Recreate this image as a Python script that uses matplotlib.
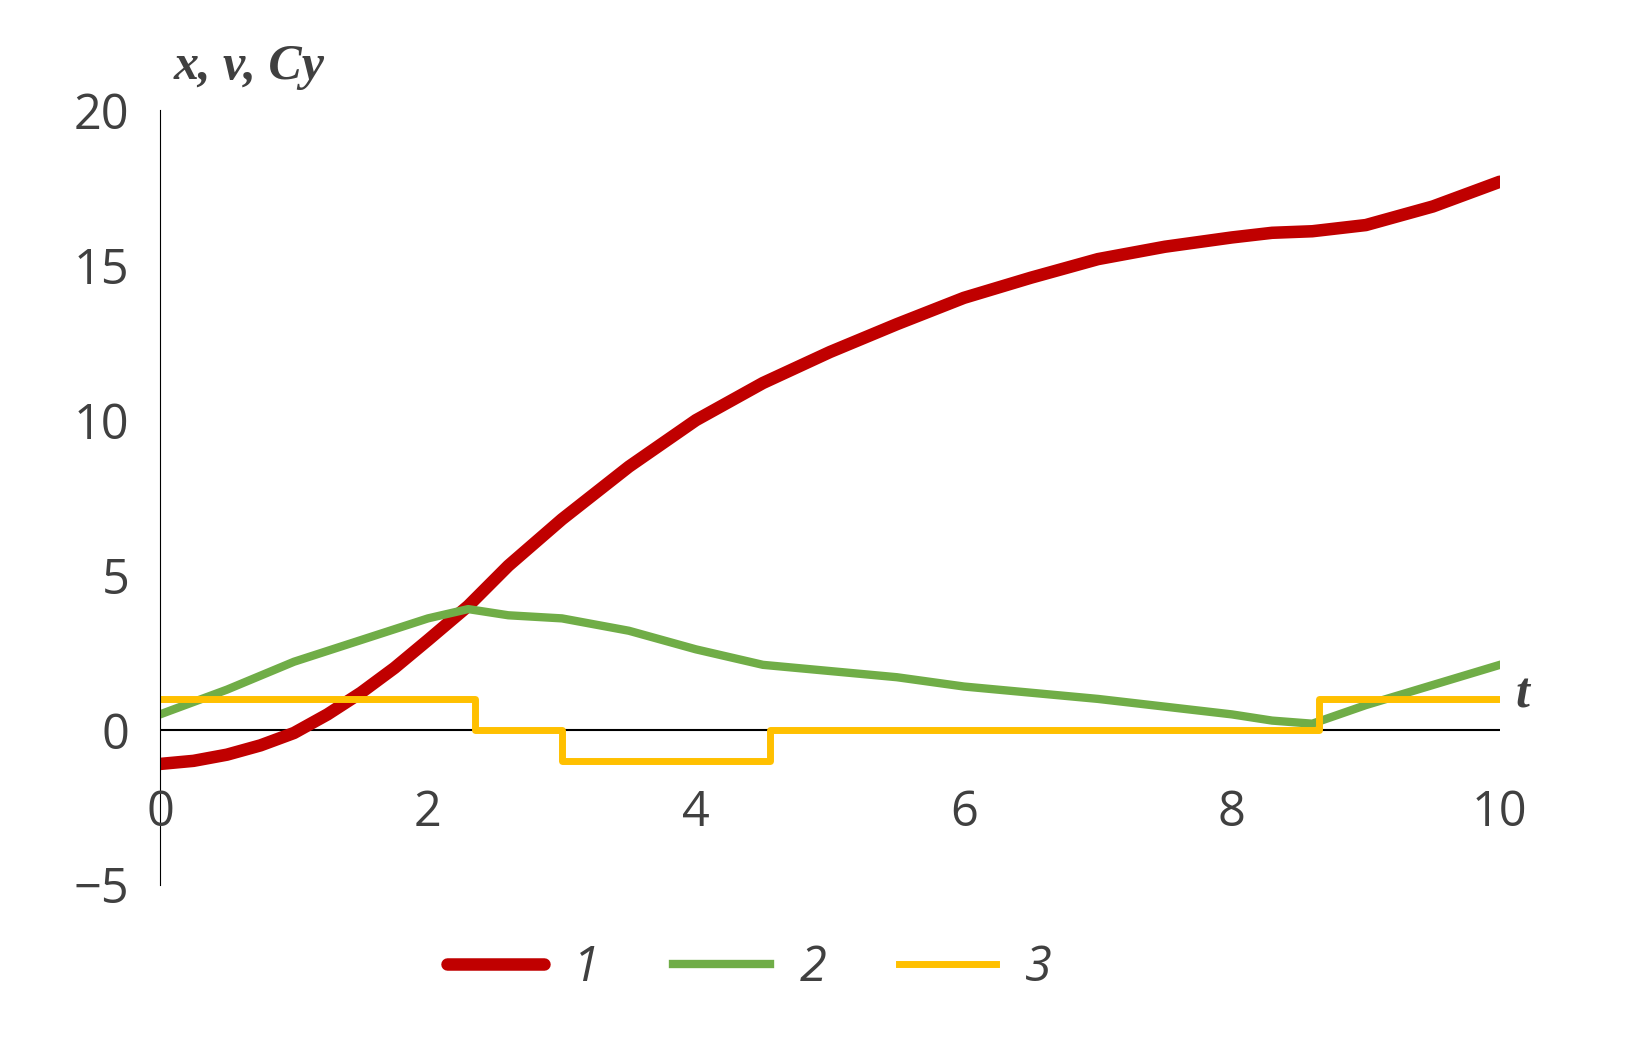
import matplotlib.pyplot as plt

# series 1: x(t)
t1 = [0, 0.25, 0.5, 0.75, 1.0, 1.25, 1.5, 1.75, 2.0, 2.3, 2.6, 3.0, 3.5, 4.0, 4.5, 5.0,
      5.5, 6.0, 6.5, 7.0, 7.5, 8.0, 8.3, 8.6, 9.0, 9.5, 10.0]
x1 = [-1.1, -1.0, -0.8, -0.5, -0.1, 0.5, 1.2, 2.0, 2.9, 4.0, 5.3, 6.8, 8.5, 10.0, 11.2, 12.2,
      13.1, 13.95, 14.6, 15.2, 15.6, 15.9, 16.05, 16.1, 16.3, 16.9, 17.7]
# series 2: v(t)
t2 = [0, 0.5, 1.0, 1.5, 2.0, 2.3, 2.6, 3.0, 3.5, 4.0, 4.5, 5.0, 5.5, 6.0, 6.5, 7.0, 7.5,
      8.0, 8.3, 8.6, 9.0, 9.5, 10.0]
x2 = [0.5, 1.3, 2.2, 2.9, 3.6, 3.9, 3.7, 3.6, 3.2, 2.6, 2.1, 1.9, 1.7, 1.4, 1.2, 1.0, 0.75,
      0.5, 0.3, 0.2, 0.8, 1.45, 2.1]
# series 3: Cy(t), stepwise
t3 = [0, 2.35, 2.35, 3.0, 3.0, 4.55, 4.55, 8.65, 8.65, 10.0]
x3 = [1, 1, 0, 0, -1, -1, 0, 0, 1, 1]

fig = plt.figure(figsize=(16.36, 10.52), dpi=100)
ax = fig.add_axes([0.0978, 0.159, 0.819, 0.736])

ax.plot(t1, x1, color="#c00000", lw=9, label="1", solid_capstyle="round")
ax.plot(t2, x2, color="#70ad47", lw=6, label="2")
ax.plot(t3, x3, color="#ffc000", lw=5, label="3")
ax.axhline(0, color="black", lw=1.5, zorder=0)

ax.set_xlim(0, 10)
ax.set_ylim(-5, 20)
ax.set_yticks([-5, 0, 5, 10, 15, 20])
ax.set_yticklabels(["\u22125", "0", "5", "10", "15", "20"])
ax.set_xticks([])
for spine in ["top", "right", "bottom"]:
    ax.spines[spine].set_visible(False)
ax.tick_params(axis="y", length=0, pad=22, labelsize=35, labelcolor="#404040")
for lab in ax.get_yticklabels():
    lab.set_family("Open Sans")

for xv in [0, 2, 4, 6, 8, 10]:
    ax.text(xv, -2.7, str(xv), ha="center", va="center", fontsize=35,
            color="#404040", family="Open Sans")

ax.text(0.1, 21.4, "x, v, Cy", fontsize=36, fontweight="bold", style="italic",
        family="Liberation Serif", color="#404040", va="center")
ax.text(10.12, 1.1, "t", fontsize=36, fontweight="bold", style="italic",
        family="Liberation Serif", color="#404040", va="center")

leg = ax.legend(loc="upper center", bbox_to_anchor=(0.44, -0.02), ncol=3, frameon=False,
                fontsize=35, handlelength=2.0, columnspacing=1.5, handletextpad=0.6)
for txt in leg.get_texts():
    txt.set_style("italic")
    txt.set_color("#404040")
    txt.set_family("Open Sans")

fig.savefig("out.png")
